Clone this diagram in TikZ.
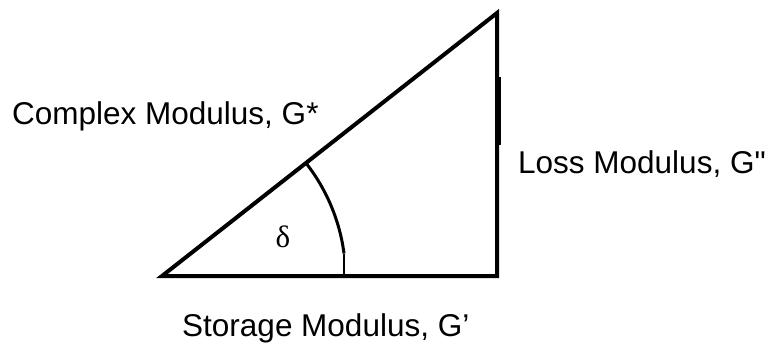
\documentclass[tikz,border=0pt]{standalone}
\usepackage{fontspec}
\setmainfont{Liberation Sans}
\newfontfamily\plainsans[Ligatures=TeXOff]{Liberation Sans}
\newfontfamily\greekfont{Liberation Serif}
\begin{document}
\begin{tikzpicture}[x=1pt,y=-1pt,
  side/.style={line width=4pt,line join=miter},
  lbl/.style={inner sep=0pt,font=\fontsize{31.5}{31.5}\selectfont},
  anglearc/.style={line width=3pt},
  tickline/.style={line width=1.5pt}]
\useasboundingbox (0,0) rectangle (770,343);
\coordinate (A) at (162,276);
\coordinate (B) at (497,276);
\coordinate (C) at (497,13);
\draw[side] (A) -- (B) -- (C) -- cycle;
\draw[line width=6pt] (498,77) coordinate (t1) -- (498,145) coordinate (t2);
\draw[anglearc] (A) ++(-38.1:183) coordinate (a1) arc[start angle=-38.1,end angle=-7.5,radius=186] coordinate (a2);
\coordinate (a3) at (a2 |- A);
\draw[tickline] (a2) -- (a3);
\node[lbl,anchor=base west] (gstar) at (12,124) {Complex Modulus, G*};
\node[lbl,anchor=base west] (gpp) at (518,173) {Loss Modulus, G{\plainsans "}};
\node[lbl,anchor=base west] (gp) at (182,336) {Storage Modulus, G'};
\node[inner sep=0pt,font=\greekfont\fontsize{31}{31}\selectfont] (delta) at (283,237) {δ};
\end{tikzpicture}
\end{document}
